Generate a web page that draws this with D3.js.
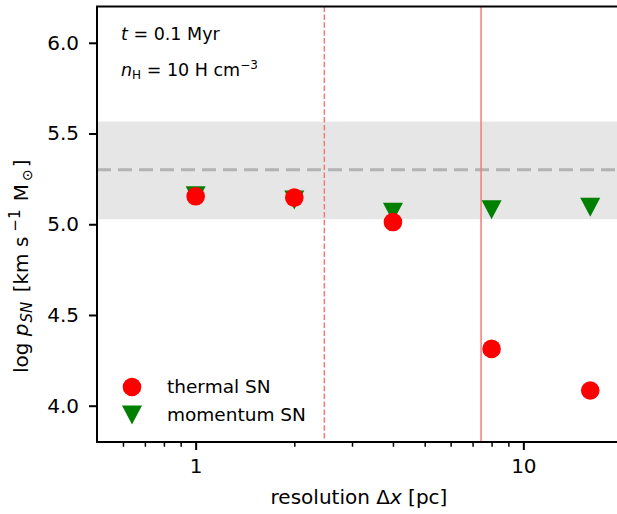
<!DOCTYPE html>
<html><head><meta charset="utf-8">
<script src="https://cdn.jsdelivr.net/npm/d3@7"></script>
<style>body{margin:0;background:#fff}svg{display:block}text{font-family:"DejaVu Sans",sans-serif}</style>
</head><body>
<svg id="c" width="617" height="514"></svg>
<script>
const resolution = [1, 2, 4, 8, 16];
const thermalSN = [5.154, 5.147, 5.012, 4.313, 4.084];
const momentumSN = [5.157, 5.133, 5.066, 5.080, 5.094];
const bandRange = [5.028, 5.566];
const refLine = 5.30;
const vDashed = 2.47;
const vSolid = 7.43;
const yTicks = [4.0, 4.5, 5.0, 5.5, 6.0];
const xTicks = [1, 10];
const xMinor = [0.6,0.7,0.8,0.9,2,3,4,5,6,7,8,9,20];

const svg = d3.select("#c");
const L = 97, R = 622, T = 6.5, B = 442;
const x = d3.scaleLog().domain([0.5, 20]).range([L, R]);
const y = d3.scaleLinear().domain([3.8, 6.2]).range([B, T]);

svg.append("defs").append("clipPath").attr("id","pc")
  .append("rect").attr("x",L).attr("y",T).attr("width",R-L).attr("height",B-T);
const g = svg.append("g").attr("clip-path","url(#pc)");

g.append("rect").attr("x",L).attr("width",R-L)
  .attr("y",y(bandRange[1])).attr("height",y(bandRange[0])-y(bandRange[1]))
  .attr("fill","#e6e6e6");
g.append("line").attr("x1",L).attr("x2",R).attr("y1",y(refLine)).attr("y2",y(refLine))
  .attr("stroke","#b3b3b3").attr("stroke-width",3).attr("stroke-dasharray","14,7");
g.append("line").attr("x1",x(vDashed)).attr("x2",x(vDashed)).attr("y1",T).attr("y2",B)
  .attr("stroke","#f47a7a").attr("stroke-width",1.5).attr("stroke-dasharray","5.5,2.4");
g.append("line").attr("x1",x(vSolid)).attr("x2",x(vSolid)).attr("y1",T).attr("y2",B)
  .attr("stroke","#f47a7a").attr("stroke-width",1.5);

const tri = (cx, cy) => `M${cx-10},${cy-9.5}L${cx+10},${cy-9.5}L${cx},${cy+9.5}Z`;
g.selectAll(".m").data(resolution).enter().append("path")
  .attr("d",(d,i)=>tri(x(d), y(momentumSN[i]))).attr("fill","#008000");
g.selectAll(".t").data(resolution).enter().append("circle")
  .attr("cx",d=>x(d)).attr("cy",(d,i)=>y(thermalSN[i])).attr("r",9.3).attr("fill","#ff0000");

// spines
svg.append("rect").attr("x",L).attr("y",T).attr("width",R-L).attr("height",B-T)
  .attr("stroke","#000").attr("stroke-width",2).attr("fill","none");

// y axis
const yAx = svg.append("g").attr("transform",`translate(${L},0)`)
  .call(d3.axisLeft(y).tickValues(yTicks).tickFormat(d3.format(".1f")).tickSize(8).tickPadding(10));
yAx.select(".domain").remove();
yAx.selectAll("line").attr("stroke-width",2);
yAx.selectAll("text").attr("font-size",20).attr("fill","#000");

// x axis
const xAx = svg.append("g").attr("transform",`translate(0,${B})`)
  .call(d3.axisBottom(x).tickValues(xTicks).tickFormat(d3.format("d")).tickSize(8).tickPadding(9));
xAx.select(".domain").remove();
xAx.selectAll("line").attr("stroke-width",2);
xAx.selectAll("text").attr("font-size",20).attr("fill","#000");
const xm = svg.append("g").attr("transform",`translate(0,${B})`)
  .call(d3.axisBottom(x).tickValues(xMinor).tickFormat("").tickSize(4.7));
xm.select(".domain").remove();
xm.selectAll("line").attr("stroke-width",1.5);

// labels
svg.append("text").attr("x",359).attr("y",504).attr("text-anchor","middle").attr("font-size",20)
  .html('resolution Δ<tspan font-style="italic">x</tspan> [pc]');
svg.append("text").attr("transform","translate(28,373) rotate(-90)").attr("text-anchor","start").attr("font-size",20)
  .html('log <tspan font-style="italic">p</tspan><tspan font-style="italic" font-size="15" dy="4" dx="1">SN</tspan><tspan dy="-4" dx="3"> [km s</tspan><tspan font-size="15" dy="-8" dx="5">−1</tspan><tspan dy="8" dx="2"> M</tspan><tspan font-size="14" dy="4" dx="3">⊙</tspan><tspan dy="-4" dx="2">]</tspan>');

// annotations
svg.append("text").attr("x",121).attr("y",40).attr("font-size",17.5)
  .html('<tspan font-style="italic">t</tspan> = 0.1 Myr');
svg.append("text").attr("x",121).attr("y",76).attr("font-size",17.5)
  .html('<tspan font-style="italic">n</tspan><tspan font-size="12" dy="3">H</tspan><tspan dy="-3"> = 10 H cm</tspan><tspan font-size="12" dy="-7">−3</tspan>');

// legend
svg.append("circle").attr("cx",132).attr("cy",387).attr("r",9.3).attr("fill","#ff0000");
svg.append("path").attr("d",tri(132,415)).attr("fill","#008000");
svg.append("text").attr("x",167).attr("y",393).attr("font-size",18.5).text("thermal SN");
svg.append("text").attr("x",167).attr("y",421).attr("font-size",18.5).text("momentum SN");
</script>
</body></html>
